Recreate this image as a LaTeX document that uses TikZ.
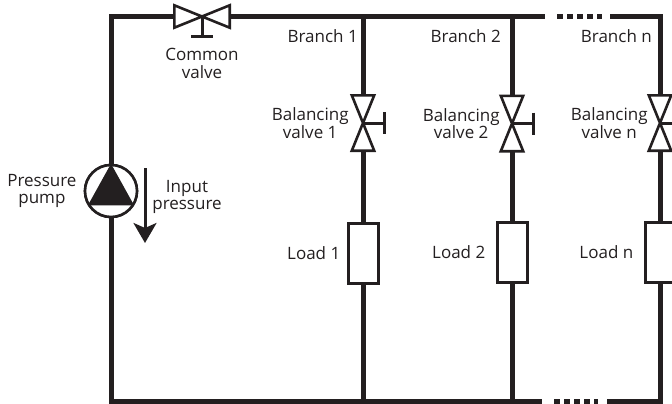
\documentclass[tikz,border=0pt]{standalone}
\usepackage{fontspec}
\setmainfont{Open Sans}
\usepackage{tikz}
\usetikzlibrary{arrows.meta,positioning}
\definecolor{inkdark}{HTML}{231F20}

\begin{document}
\begin{tikzpicture}[
			x=1pt,y=-1pt,
			pipe/.style={inkdark,line width=5pt,line join=miter},
			gaps/.style={inkdark,line width=5pt,dash pattern=on 5.5pt off 4.5pt},
			valvebody/.style={draw=inkdark,line width=2.6pt,line join=miter},
			vbox/.style={minimum width=22pt,minimum height=55pt,inner sep=0pt},
			hbox/.style={minimum width=55pt,minimum height=22pt,inner sep=0pt},
			handle/.style={inkdark,line width=3pt},
			loadbox/.style={draw=inkdark,line width=3pt,fill=white,minimum width=30pt,minimum height=60pt,inner sep=0pt},
			pumpring/.style={circle,draw=inkdark,line width=2.6pt,fill=white,minimum size=52pt,inner sep=0pt},
			lab/.style={text=inkdark,font=\fontsize{17}{17.5}\selectfont,align=center,inner sep=0pt},
			arr/.style={-{Stealth[length=20pt,width=23pt,inset=5pt]},inkdark,line width=3pt}
			]
			\clip (0,0) rectangle (672,404);
			\coordinate (tl) at (111,16.5);
			\coordinate (bl) at (111,401);
			\coordinate (t1) at (363,16.5);
			\coordinate (t2) at (512,16.5);
			\coordinate (b1) at (363,401);
			\coordinate (b2) at (512,401);
			\coordinate (tend) at (545,16.5);
			\coordinate (bend) at (542,401);
			\coordinate (tdot1) at (557,16.5);
			\coordinate (tdot2) at (602,16.5);
			\coordinate (bdot1) at (554,401);
			\coordinate (bdot2) at (598,401);
			\coordinate (tn) at (610,16.5);
			\coordinate (bn) at (607,401);
			\coordinate (tc) at (660,16.5);
			\coordinate (bc) at (660,401);
			% valves, pump, loads
			\node[hbox] (cv) at (202,16.5) {};
			\node[vbox] (v1) at (363,123) {};
			\node[vbox] (v2) at (512,123.5) {};
			\node[vbox] (vn) at (660,123) {};
			\node[pumpring] (pump) at (111,191) {};
			\node[loadbox] (l1) at (363,253) {};
			\node[loadbox] (l2) at (512,252) {};
			\node[loadbox] (ln) at (660,252) {};
			\coordinate (cvs) at (202,37);
			\coordinate (h1) at (384,123);
			\coordinate (h2) at (533,123.5);
			\coordinate (hn) at (681,123);
			% pipes
			\draw[pipe] (pump) -- (tl) -- (cv.west);
			\draw[pipe] (cv.east) -- (tend);
			\draw[gaps] (tdot1) -- (tdot2);
			\draw[pipe] (tn) -- (tc) -- (vn.north);
			\draw[pipe] (pump) -- (bl) -- (bend);
			\draw[gaps] (bdot1) -- (bdot2);
			\draw[pipe] (bn) -- (bc) -- (ln);
			\draw[pipe] (vn.south) -- (ln);
			\draw[pipe] (t1) -- (v1.north);
			\draw[pipe] (v1.south) -- (l1);
			\draw[pipe] (l1) -- (b1);
			\draw[pipe] (t2) -- (v2.north);
			\draw[pipe] (v2.south) -- (l2);
			\draw[pipe] (l2) -- (b2);
			% redraw on top of the pipes
			\node[pumpring] at (pump) {};
			\node[loadbox] at (l1) {};
			\node[loadbox] at (l2) {};
			\node[loadbox] at (ln) {};
			\fill[inkdark] (pump.north) -- (pump.-32) -- (pump.212) -- cycle;
			\draw[valvebody] (cv.north west) -- (cv.south west) -- (cv.north east) -- (cv.south east) -- cycle;
			\draw[valvebody] (v1.north west) -- (v1.north east) -- (v1.south west) -- (v1.south east) -- cycle;
			\draw[valvebody] (v2.north west) -- (v2.north east) -- (v2.south west) -- (v2.south east) -- cycle;
			\draw[valvebody] (vn.north west) -- (vn.north east) -- (vn.south west) -- (vn.south east) -- cycle;
			\draw[handle] (cv.center) -- (cvs);
			\draw[handle] ([xshift=-11pt]cvs) -- ([xshift=11pt]cvs);
			\draw[handle] (v1.center) -- (h1);
			\draw[handle] ([yshift=11pt]h1) -- ([yshift=-11pt]h1);
			\draw[handle] (v2.center) -- (h2);
			\draw[handle] ([yshift=11pt]h2) -- ([yshift=-11pt]h2);
			\draw[handle] (vn.center) -- (hn);
			% labels
			\node[lab] (cvlab) [below=11pt of cvs] {Common\\valve};
			\node[lab] (pumplab) [left=7pt of pump] {Pressure\\pump};
			\coordinate (arrtop) at (145,168);
			\coordinate (arrend) at (145,243);
			\draw[arr] (arrtop) -- (arrend);
			\node[lab] (inlab) at (187,197) {Input\\pressure};
			\node[lab,anchor=east] (br1) at (358,36) {Branch 1};
			\node[lab,anchor=east] (br2) at (501,36) {Branch 2};
			\node[lab,anchor=east] (brn) at (652,36) {Branch n};
			\node[lab] (bv1) [left=3pt of v1] {Balancing\\valve 1};
			\node[lab] (bv2) [left=1pt of v2] {Balancing\\valve 2};
			\node[lab] (bvn) [left=1pt of vn] {Balancing\\valve n};
			\node[lab] (ll1) [left=6pt of l1] {Load 1};
			\node[lab] (ll2) [left=10pt of l2] {Load 2};
			\node[lab] (lln) [left=10pt of ln] {Load n};
		\end{tikzpicture}
\end{document}
